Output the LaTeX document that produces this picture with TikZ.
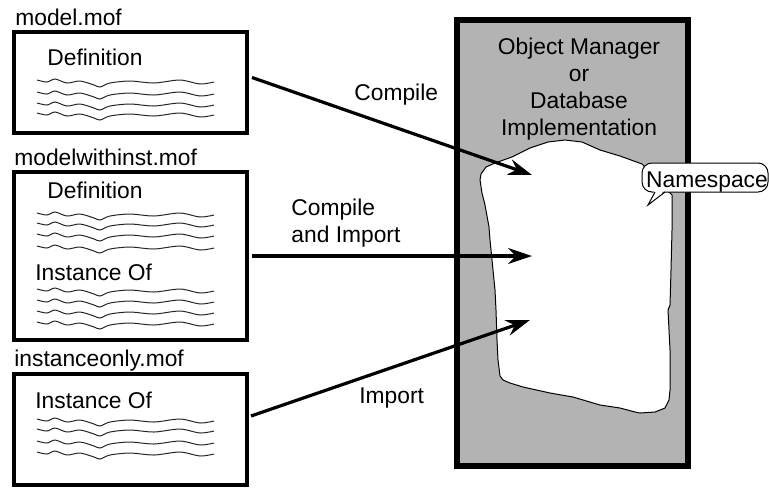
\documentclass[tikz,border=0pt]{standalone}
\usepackage{fontspec}
\setmainfont{Liberation Sans}
\usetikzlibrary{arrows.meta, positioning}
\definecolor{dbgray}{RGB}{179,179,179}
\definecolor{ink}{RGB}{0,0,0}
\newcommand{\wiggle}[2]{\draw[scribble, shift={(#1,#2)}] plot[smooth, tension=0.5] coordinates {(0,0) (10,2) (18,-1) (30,3) (43,1) (57,5) (63,7) (73,3) (93,1) (117,3) (143,0) (163,4) (177,2)};}

\begin{document}
\begin{tikzpicture}[x=0.5pt, y=-0.5pt, >={Stealth[length=12pt, width=8pt, inset=4pt]},
	mofbox/.style={draw=ink, line width=2pt, minimum width=116.5pt, inner sep=0pt},
	txt/.style={inner sep=0pt, anchor=base west},
	scribble/.style={line width=0.5pt, ink!85},
	flow/.style={->, line width=1.6pt}]
	\fontsize{11.4pt}{13.5pt}\selectfont
	\useasboundingbox (0,0) rectangle (769,489);
	% database side
	\filldraw[fill=dbgray, draw=ink, line width=3.2pt] (457,20) rectangle (688,466);
	\node[align=center, inner sep=0pt, anchor=base] (dbtitle) at (579,135) {Object Manager\\or\\Database\\Implementation};
	\filldraw[fill=white, draw=ink, line width=0.5pt] (481,174) -- (486,167) -- (495,163) -- (512,157) -- (530,148) -- (548,142) -- (565,140) -- (582,142) -- (600,150) -- (620,156) -- (642,164) -- (672,195) -- (672,230) -- (671,270) -- (670,305) -- (668,310) -- (670,350) -- (670,390) -- (669,400) -- (665,408) -- (655,412) -- (640,413) -- (635,412) -- (620,408) -- (600,405) -- (573,397) -- (550,393) -- (523,387) -- (510,383) -- (503,380) -- (500,376) -- (498,360) -- (497,340) -- (496,310) -- (495,290) -- (492,260) -- (490,240) -- (489,227) -- (485,205) -- (482,193) -- (480,180) -- cycle;
	\filldraw[fill=white, draw=ink, line width=0.5pt, rounded corners=5pt] (642,163) rectangle (768,192);
	\fill[white] (655,190) -- (648,205) -- (665,190) -- cycle;
	\draw[ink, line width=0.5pt] (655,192) -- (648,205) -- (665,192);
	\node[inner sep=0pt, anchor=base] (nspace) at (707,187) {Namespace};
	\coordinate (c1) at (532,175);
	\coordinate (c2) at (532,256);
	\coordinate (c3) at (530,320);

	% mof files
	\node[mofbox, minimum height=50.5pt] (model) at (130.5,82.5) {};
	\node[txt] (modelname) at (15,25) {model.mof};
	\node[txt] (modeldef) at (47,65) {Definition};
	\foreach \y in {80,92,103,113} {\wiggle{37}{\y}}

	\node[mofbox, minimum height=84pt] (withinst) at (130.5,256) {};
	\node[txt] (withinstname) at (14,165) {modelwithinst.mof};
	\node[txt] (withinstdef) at (47,198) {Definition};
	\foreach \y in {213,223,234,246} {\wiggle{37}{\y}}
	\node[txt] (withinstinst) at (35,280) {Instance Of};
	\foreach \y in {289,300,311,322} {\wiggle{37}{\y}}

	\node[mofbox, minimum height=55.5pt] (instonly) at (130.5,429.5) {};
	\node[txt] (instonlyname) at (14,366) {instanceonly.mof};
	\node[txt] (instonlyinst) at (35,408) {Instance Of};
	\foreach \y in {419,429,441,452} {\wiggle{37}{\y}}

	% arrows
	\draw[flow] ([xshift=1.5pt, yshift=2.5pt]model.east) -- (c1);
	\draw[flow] ([xshift=1.5pt]withinst.east) -- (c2);
	\draw[flow] ([xshift=1pt, yshift=6.75pt]instonly.east) -- (c3);
	\node[txt] (compile) at (354,100) {Compile};
	\node[txt, align=left] (compimport) at (291,242) {Compile\\and Import};
	\node[txt] (import) at (359,403) {Import};
\end{tikzpicture}
\end{document}
